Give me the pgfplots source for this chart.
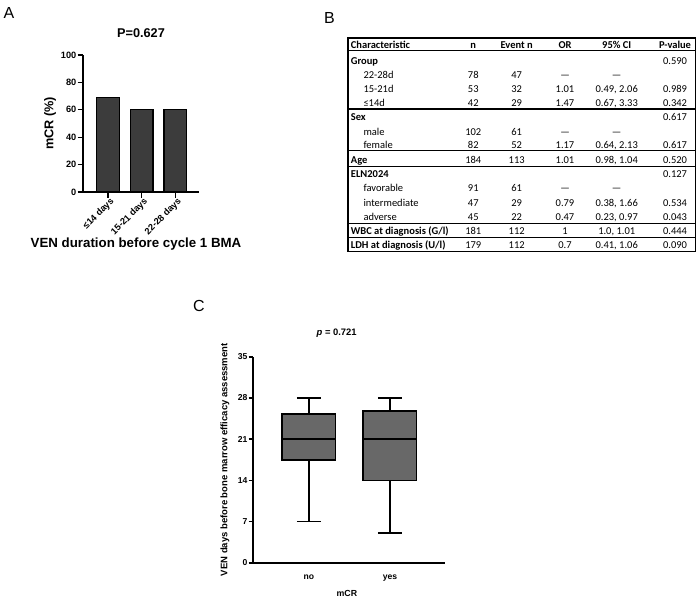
\documentclass[border=0pt]{standalone}
\usepackage{pgfplots}
\pgfplotsset{compat=1.18}
\usepackage{fontspec}
\setmainfont{Liberation Sans}
\newfontfamily\calibri{Carlito}
\definecolor{barA}{HTML}{3C3C3C}
\definecolor{boxC}{HTML}{686868}
\newcommand{\fs}[1]{\fontsize{#1}{#1}\selectfont}
\newcommand{\trow}[8]{%
  \node[anchor=base west,inner sep=0pt] at (#2,#1+3.3) {#3};
  \node[anchor=base,inner sep=0pt] at (473.3,#1+3.3) {#4};
  \node[anchor=base,inner sep=0pt] at (516.7,#1+3.3) {#5};
  \node[anchor=base,inner sep=0pt] at (565,#1+3.3) {#6};
  \node[anchor=base,inner sep=0pt] at (616.7,#1+3.3) {#7};
  \node[anchor=base,inner sep=0pt] at (675,#1+3.3) {#8};}
\pgfplotsset{bxline/.style={black, line width=1.6pt, forget plot},
  every axis title shift=0pt}
\begin{document}
\begin{tikzpicture}
\path[use as bounding box] (0,0) rectangle (700pt,-600pt);
% ---------- Panel A ----------
\begin{axis}[
  at={(83pt,-192pt)}, anchor=south west,
  scale only axis, width=116pt, height=137pt,
  xmin=-0.742, xmax=2.70, ymin=0, ymax=100,
  axis x line*=bottom, axis y line*=left,
  axis line style={-, line width=1.3pt},
  tick style={black, line width=1.3pt},
  tick align=outside, major tick length=5.5pt,
  xtick={0,1,2}, xticklabels={≤14 days,15-21 days,22-28 days},
  ytick={0,20,40,60,80,100},
  /pgf/number format/assume math mode=true,
  tick label style={font=\bfseries\fs{9.2}},
  x tick label style={rotate=45, anchor=north east, inner sep=0.5pt, xshift=2pt},
  y tick label style={inner sep=1pt},
  title={P=0.627},
  title style={font=\bfseries\fs{12.7}, at={(axis description cs:0.5,1.162)}, anchor=center},
  ylabel={mCR (\%)},
  ylabel style={font=\bfseries\fs{12.7}, at={(axis description cs:-0.2845,0.5)}, anchor=center},
  xlabel={VEN duration before cycle 1 BMA},
  xlabel style={font=\bfseries\fs{13.3}, at={(axis description cs:0.457,-0.383)}, anchor=center},
]
\addplot[ybar, bar width=0.67, fill=barA, draw=black, line width=1.3pt]
  coordinates {(0,69.0) (1,60.4) (2,60.3)};
\end{axis}
% ---------- Panel C ----------
\begin{axis}[
  at={(252.7pt,-562.7pt)}, anchor=south west,
  scale only axis, width=192.3pt, height=206pt,
  xmin=0.305, xmax=2.68, ymin=0, ymax=35,
  axis x line*=bottom, axis y line*=left,
  axis line style={-, line width=1.6pt},
  tick style={black, line width=1.6pt},
  tick align=outside, major tick length=4pt,
  xtick={1,2}, xticklabels={no,yes},
  xtick style={draw=none},
  ytick={0,7,14,21,28,35},
  /pgf/number format/assume math mode=true,
  tick label style={font=\bfseries\fs{8.6}},
  x tick label style={yshift=-4.5pt},
  y tick label style={inner sep=1pt},
  title={{\itshape p} = 0.721},
  title style={font=\bfseries\fs{9.4}, at={(axis description cs:0.4368,1.115)}, anchor=center},
  ylabel={VEN days before bone marrow efficacy assessment},
  ylabel style={font=\bfseries\fs{9.5}, at={(axis description cs:-0.144,0.5)}, anchor=center},
  xlabel={mCR},
  xlabel style={font=\bfseries\fs{8.8}, at={(axis description cs:0.49,-0.147)}, anchor=center},
  clip=false,
]
% group "no": whiskers 7 / 28, box 17.5 -- 25.25, median 21
\addplot[bxline] coordinates {(1,25.25) (1,28)};
\addplot[bxline] coordinates {(1,17.5) (1,7)};
\addplot[bxline] coordinates {(0.85,28) (1.15,28)};
\addplot[bxline] coordinates {(0.85,7) (1.15,7)};
\addplot[bxline, fill=boxC, line join=miter] coordinates {(0.67,17.5) (1.33,17.5) (1.33,25.25) (0.67,25.25) (0.67,17.5)} --cycle;
\addplot[bxline] coordinates {(0.67,21) (1.33,21)};
% group "yes": whiskers 5 / 28, box 14 -- 25.75, median 21
\addplot[bxline] coordinates {(2,25.75) (2,28)};
\addplot[bxline] coordinates {(2,14) (2,5)};
\addplot[bxline] coordinates {(1.85,28) (2.15,28)};
\addplot[bxline] coordinates {(1.85,5) (2.15,5)};
\addplot[bxline, fill=boxC, line join=miter] coordinates {(1.67,14) (2.33,14) (2.33,25.75) (1.67,25.75) (1.67,14)} --cycle;
\addplot[bxline] coordinates {(1.67,21) (2.33,21)};
\end{axis}
% ---------- labels and table ----------
\begin{scope}[x=1pt, y=-1pt]
\node[font=\fs{16}] at (9,12.5) {A};
\node[font=\fs{16}] at (329.5,17.5) {B};
\node[font=\fs{16}] at (199,306) {C};
\draw[line width=1.2pt] (348,38) rectangle (695.5,251.7);
\foreach \yy in {50.7,109,150.7,166.7,223.3,237.7}
  \draw[line width=1.1pt] (348,\yy) -- (695.5,\yy);
\begin{scope}[font=\calibri\fs{10.5}]
\trow{45}{350.7}{\bfseries Characteristic}{\bfseries n}{\bfseries Event n}{\bfseries OR}{\bfseries 95\% CI}{\bfseries P-value}
\trow{61}{350.7}{\bfseries Group}{}{}{}{}{0.590}
\trow{75}{363.3}{22-28d}{78}{47}{—}{—}{}
\trow{89.3}{363.3}{15-21d}{53}{32}{1.01}{0.49, 2.06}{0.989}
\trow{103.3}{363.3}{≤14d}{42}{29}{1.47}{0.67, 3.33}{0.342}
\trow{117.3}{350.7}{\bfseries Sex}{}{}{}{}{0.617}
\trow{131.7}{363.3}{male}{102}{61}{—}{—}{}
\trow{145}{363.3}{female}{82}{52}{1.17}{0.64, 2.13}{0.617}
\trow{160}{350.7}{\bfseries Age}{184}{113}{1.01}{0.98, 1.04}{0.520}
\trow{174}{350.7}{\bfseries ELN2024}{}{}{}{}{0.127}
\trow{188.3}{363.3}{favorable}{91}{61}{—}{—}{}
\trow{202.7}{363.3}{intermediate}{47}{29}{0.79}{0.38, 1.66}{0.534}
\trow{216.7}{363.3}{adverse}{45}{22}{0.47}{0.23, 0.97}{0.043}
\trow{231}{350.7}{\bfseries WBC at diagnosis (G/l)}{181}{112}{1}{1.0, 1.01}{0.444}
\trow{245}{350.7}{\bfseries LDH at diagnosis (U/l)}{179}{112}{0.7}{0.41, 1.06}{0.090}
\end{scope}
\end{scope}
\end{tikzpicture}
\end{document}
